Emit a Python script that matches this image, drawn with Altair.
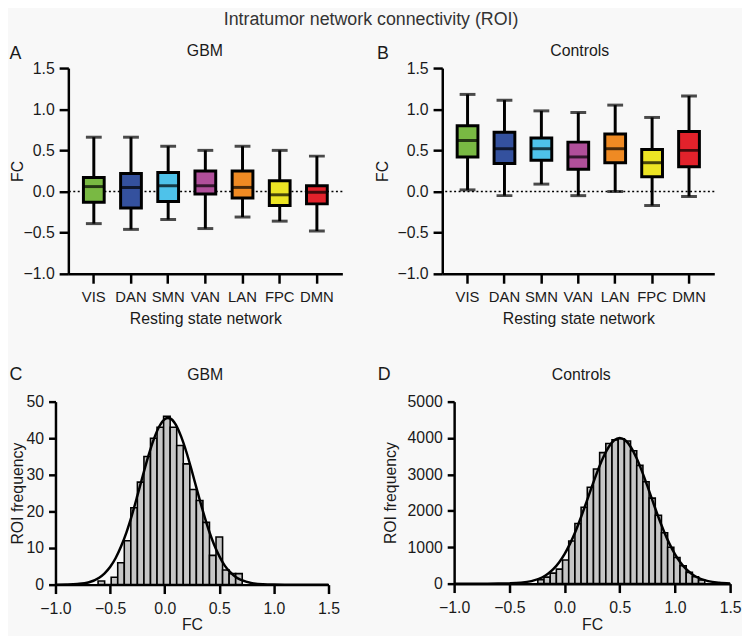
import altair as alt
import pandas as pd

FONT = "Liberation Sans"
INK = "#1a1a1a"
BG = "#f8f8f8"

# ---------------- data ----------------
main_title = "Intratumor network connectivity (ROI)"
networks = ["VIS", "DAN", "SMN", "VAN", "LAN", "FPC", "DMN"]
network_colors = ["#79b943", "#34519e", "#4ec2ea", "#b04f9a", "#ef8a23", "#ece424", "#e2222b"]

gbm_min = [-0.39, -0.46, -0.34, -0.45, -0.31, -0.36, -0.48]
gbm_q1 = [-0.13, -0.20, -0.12, -0.03, -0.08, -0.17, -0.15]
gbm_med = [0.06, 0.05, 0.07, 0.07, 0.05, -0.04, -0.01]
gbm_q3 = [0.17, 0.22, 0.23, 0.25, 0.25, 0.13, 0.07]
gbm_max = [0.66, 0.66, 0.55, 0.50, 0.55, 0.50, 0.43]

ctl_min = [0.02, -0.05, 0.09, -0.05, 0.00, -0.17, -0.06]
ctl_q1 = [0.42, 0.34, 0.38, 0.27, 0.35, 0.18, 0.30]
ctl_med = [0.62, 0.52, 0.52, 0.42, 0.52, 0.35, 0.50]
ctl_q3 = [0.80, 0.72, 0.65, 0.60, 0.70, 0.51, 0.73]
ctl_max = [1.18, 1.11, 0.98, 0.96, 1.05, 0.90, 1.16]

gbm_bin_width = 0.06
gbm_bin_centers = [-0.58, -0.52, -0.46, -0.40, -0.34, -0.28, -0.22, -0.16, -0.10, -0.04, 0.02,
                   0.08, 0.14, 0.20, 0.26, 0.32, 0.38, 0.44, 0.50, 0.56, 0.62, 0.68]
gbm_bin_counts = [1, 0, 2, 6, 12, 21, 28, 35, 40, 43, 46, 43, 38, 33, 26, 23, 17, 8, 13, 4, 3, 3]

gbm_fit_x = [-1.0, -0.9, -0.8, -0.7, -0.6, -0.55, -0.5, -0.45, -0.4, -0.35, -0.3, -0.25, -0.2,
             -0.15, -0.1, -0.05, 0.0, 0.03, 0.05, 0.1, 0.15, 0.2, 0.25, 0.3, 0.35, 0.4, 0.45,
             0.5, 0.55, 0.6, 0.65, 0.7, 0.8, 0.9, 1.0, 1.1, 1.2, 1.3, 1.4, 1.5]
gbm_fit_y = [0.0, 0.05, 0.2, 0.6, 1.9, 3.1, 4.8, 7.2, 10.4, 14.3, 19.0, 24.3, 29.8,
             35.1, 39.7, 43.2, 45.2, 45.5, 45.4, 43.8, 40.5, 36.1, 30.9, 25.4, 20.1, 15.2, 11.1,
             7.8, 5.2, 3.4, 2.1, 1.3, 0.4, 0.1, 0.02, 0.0, 0.0, 0.0, 0.0, 0.0]

ctl_bin_width = 0.056
ctl_bin_centers = [-0.214, -0.158, -0.102, -0.046, 0.010, 0.066, 0.122, 0.178, 0.234, 0.290,
                   0.346, 0.402, 0.458, 0.514, 0.570, 0.626, 0.682, 0.738, 0.794, 0.850,
                   0.906, 0.962, 1.018, 1.074, 1.130, 1.186, 1.242]
ctl_bin_counts = [110, 180, 290, 400, 650, 1170, 1650, 2100, 2650, 3150,
                  3600, 3850, 3950, 3980, 3920, 3650, 3250, 2800, 2350, 1880,
                  1400, 1000, 720, 490, 310, 190, 100]

ctl_fit_x = [-1.0, -0.9, -0.8, -0.7, -0.6, -0.5, -0.4, -0.3, -0.2, -0.15, -0.1, -0.05, 0.0,
             0.05, 0.1, 0.15, 0.2, 0.25, 0.3, 0.35, 0.4, 0.45, 0.5, 0.55, 0.6, 0.65, 0.7,
             0.75, 0.8, 0.85, 0.9, 0.95, 1.0, 1.05, 1.1, 1.15, 1.2, 1.3, 1.4, 1.5]
ctl_fit_y = [0, 0, 0, 0, 2, 7, 23, 68, 176, 270, 403, 581, 812,
             1100, 1442, 1832, 2253, 2685, 3099, 3465, 3753, 3937, 4000, 3937, 3753, 3465, 3099,
             2685, 2253, 1832, 1442, 1100, 812, 581, 403, 270, 176, 68, 23, 7]

fc_ticks = [-1.0, -0.5, 0.0, 0.5, 1.0, 1.5]


def text_layer(label, size, x, y, align, color=INK):
    return alt.Chart(pd.DataFrame({"t": [label]})).mark_text(
        font=FONT, fontSize=size, color=color, align=align, baseline="alphabetic"
    ).encode(text="t:N", x=alt.value(x), y=alt.value(y))


def spacer(w):
    return alt.Chart(pd.DataFrame({"t": [""]})).mark_text(fontSize=1).encode(
        text="t:N", x=alt.value(0), y=alt.value(0)).properties(width=w, height=1)


def box_panel(letter, title, mins, q1, med, q3, maxs, width, letter_x, title_x, ytitle_x):
    height = 208
    df = pd.DataFrame({"net": networks, "lo": mins, "q1": q1, "med": med,
                       "q3": q3, "hi": maxs, "fill": network_colors})
    yscale = alt.Scale(domain=[-1.0, 1.5], nice=False, zero=False)
    x = alt.X("net:N", sort=networks,
              scale=alt.Scale(paddingInner=0.3, paddingOuter=0.335),
              axis=alt.Axis(title="Resting state network", labelAngle=0, labelFontSize=15,
                            labelPadding=6.5, tickSize=9.5, titleFontSize=16,
                            titleX=width / 2, titleY=37.5, titleBaseline="top",
                            titleAlign="center", titleFontWeight="normal"))
    yaxis = alt.Axis(title="FC", values=fc_ticks, format=".1f", labelFontSize=16,
                     labelPadding=5, tickSize=9.3, titleFontSize=16, labelFlush=False,
                     labelOverlap=False, titleX=ytitle_x, titleY=height / 2, titleAngle=270,
                     titleBaseline="bottom", titleAlign="center", titleFontWeight="normal")

    def Y(field):
        return alt.Y(field, scale=yscale, axis=yaxis)

    base = alt.Chart(df)
    zero = alt.Chart(pd.DataFrame({"z": [0.0]})).mark_rule(
        color="black", strokeWidth=1.6, strokeDash=[2, 2.5]
    ).encode(y=Y("z:Q"))
    whisk = base.mark_rule(color="black", strokeWidth=3).encode(x=x, y=Y("lo:Q"), y2="hi:Q")
    box = base.mark_bar(size=21, stroke="black", strokeWidth=3).encode(
        x=x, y=Y("q1:Q"), y2="q3:Q", fill=alt.Fill("fill:N", scale=None))
    median = base.mark_tick(color="black", thickness=3, size=21).encode(x=x, y=Y("med:Q"))
    cap_hi = base.mark_tick(color="black", thickness=3, size=16).encode(x=x, y=Y("hi:Q"))
    cap_lo = base.mark_tick(color="black", thickness=3, size=16).encode(x=x, y=Y("lo:Q"))
    return alt.layer(
        zero, whisk, box, median, cap_hi, cap_lo,
        text_layer(letter, 18, letter_x, -9.3, "left"),
        text_layer(title, 16, title_x, -12.6, "center"),
    ).properties(width=width, height=height)


def hist_panel(letter, title, centers, counts, bw, fit_x, fit_y, ymax, ystep, width, height,
               letter_x, letter_y, title_x, title_y, ytitle_x, xtitle_y):
    bars = pd.DataFrame({"lo": [c - bw / 2 for c in centers],
                         "hi": [c + bw / 2 for c in centers],
                         "n": counts, "base": [0] * len(counts)})
    xs = alt.Scale(domain=[-1.0, 1.5], nice=False, zero=False)
    ys = alt.Scale(domain=[0, ymax], nice=False)
    xaxis = alt.Axis(title="FC", values=fc_ticks, format=".1f", labelFontSize=16,
                     labelPadding=7, tickSize=9, labelFlush=False, labelOverlap=False,
                     titleFontSize=16, titleX=width / 2, titleY=xtitle_y, titleBaseline="top",
                     titleAlign="center", titleFontWeight="normal")
    yaxis = alt.Axis(title="ROI frequency", values=list(range(0, ymax + 1, ystep)), format="d",
                     labelFontSize=16, labelPadding=5, tickSize=7, labelFlush=False,
                     labelOverlap=False, titleFontSize=16, titleX=ytitle_x, titleY=height / 2,
                     titleAngle=270, titleBaseline="bottom", titleAlign="center",
                     titleFontWeight="normal")
    bar = alt.Chart(bars).mark_bar(fill="#c6c6c6", stroke="black", strokeWidth=1.6).encode(
        x=alt.X("lo:Q", scale=xs, axis=xaxis), x2="hi:Q",
        y=alt.Y("n:Q", scale=ys, axis=yaxis), y2="base:Q")
    curve = alt.Chart(pd.DataFrame({"x": fit_x, "y": fit_y})).mark_line(
        color="black", strokeWidth=2.5, interpolate="monotone"
    ).encode(x=alt.X("x:Q", scale=xs, axis=xaxis), y=alt.Y("y:Q", scale=ys, axis=yaxis))
    return alt.layer(
        bar, curve,
        text_layer(letter, 18, letter_x, letter_y, "left"),
        text_layer(title, 16, title_x, title_y, "center"),
    ).properties(width=width, height=height)


panel_a = box_panel("A", "GBM", gbm_min, gbm_q1, gbm_med, gbm_q3, gbm_max,
                    width=277, letter_x=-59.5, title_x=138, ytitle_x=-43.5)
panel_b = box_panel("B", "Controls", ctl_min, ctl_q1, ctl_med, ctl_q3, ctl_max,
                    width=275, letter_x=-66, title_x=139, ytitle_x=-52.6)
panel_c = hist_panel("C", "GBM", gbm_bin_centers, gbm_bin_counts, gbm_bin_width,
                     gbm_fit_x, gbm_fit_y, 50, 10, width=276, height=185,
                     letter_x=-46.5, letter_y=-22, title_x=151.3, title_y=-22,
                     ytitle_x=-30.5, xtitle_y=32)
panel_d = hist_panel("D", "Controls", ctl_bin_centers, ctl_bin_counts, ctl_bin_width,
                     ctl_fit_x, ctl_fit_y, 5000, 1000, width=279, height=184,
                     letter_x=-77.3, letter_y=-21.5, title_x=128.4, title_y=-21.5,
                     ytitle_x=-56.6, xtitle_y=33)

row1 = alt.hconcat(spacer(1), panel_a, spacer(31), panel_b, spacing=0)
row2 = alt.hconcat(spacer(1), panel_c, spacer(37), panel_d, spacing=0)
grid = alt.vconcat(row1, row2, spacing=39.2)

title_chart = text_layer(main_title, 18, 367, 0, "center", color="#333333").properties(
    width=1, height=1)

chart = alt.vconcat(title_chart, grid, spacing=13.3).properties(
    padding=0,
    background=BG,
).configure_view(stroke=None).configure_axis(
    domainColor="black", domainWidth=2.5, tickColor="black", tickWidth=2.5,
    labelColor=INK, titleColor=INK, labelFont=FONT, titleFont=FONT, grid=False,
)

chart.save("out.html", embed_options={"renderer": "svg", "actions": False})
